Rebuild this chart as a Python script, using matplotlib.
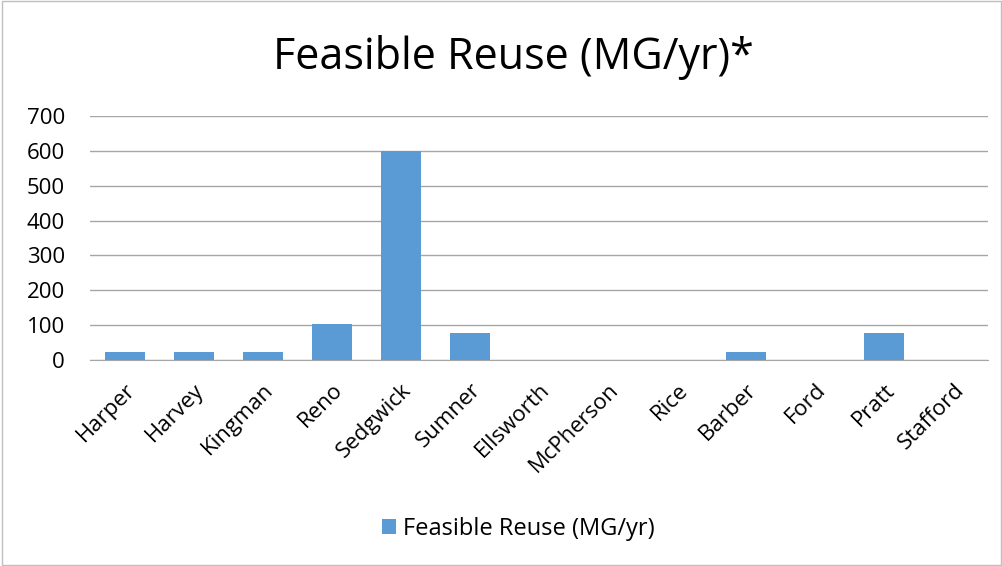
import matplotlib.pyplot as plt
from matplotlib.patches import Rectangle

plt.rcParams["font.family"] = ["Open Sans", "DejaVu Sans"]

counties = ["Harper", "Harvey", "Kingman", "Reno", "Sedgwick", "Sumner",
            "Ellsworth", "McPherson", "Rice", "Barber", "Ford", "Pratt", "Stafford"]
reuse = [24, 24, 24, 104, 600, 78, 0, 0, 0, 24, 0, 78, 0]

BLUE = "#5B9BD5"

fig = plt.figure(figsize=(10.03, 5.66), dpi=100)
ax = fig.add_axes([90 / 1003, 1 - 360 / 566, 898 / 1003, 244 / 566])

x = range(len(counties))
ax.bar(x, reuse, width=0.58, color=BLUE, zorder=3, label="Feasible Reuse (MG/yr)")

ax.set_xlim(-0.5, len(counties) - 0.5)
ax.set_ylim(0, 700)
ax.set_yticks(range(0, 701, 100))
ax.yaxis.grid(True, color="#A6A6A6", linewidth=1, zorder=0)
ax.tick_params(axis="y", length=0, labelsize=16, pad=18)
ax.tick_params(axis="x", length=0, labelsize=16, pad=14)
ax.set_xticks(list(x))
ax.set_xticklabels(counties, rotation=45, ha="right", rotation_mode="anchor")
for s in ("top", "right", "left"):
    ax.spines[s].set_visible(False)
ax.spines["bottom"].set_color("#A6A6A6")

fig.text(0.512, 1 - 57 / 566, "Feasible Reuse (MG/yr)*", fontsize=31,
         ha="center", va="center")

leg = fig.legend(loc="center", bbox_to_anchor=(0.517, 1 - 529 / 566), frameon=False,
                 fontsize=17, handlelength=0.6, handleheight=0.6, handletextpad=0.3)

# outer chart border
fig.patches.append(Rectangle((0.002, 0.002), 0.996, 0.996, transform=fig.transFigure,
                             fill=False, edgecolor="#BFBFBF", linewidth=1))

fig.savefig("out.png", dpi=100)
